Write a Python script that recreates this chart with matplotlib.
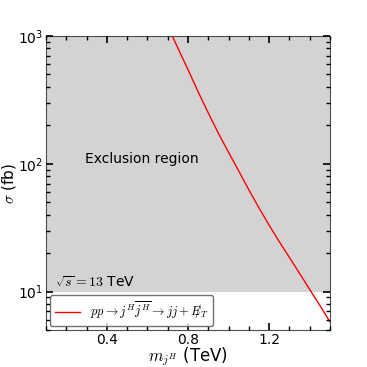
import numpy as np
import matplotlib
matplotlib.use("Agg")
import matplotlib.pyplot as plt
from matplotlib.ticker import MultipleLocator, LogLocator, NullFormatter

plt.rcParams['mathtext.fontset'] = 'cm'

mass = [0.70, 0.75, 0.80, 0.85, 0.90, 0.95, 1.00, 1.05, 1.10,
        1.15, 1.20, 1.25, 1.30, 1.35, 1.40, 1.45, 1.50]   # TeV
xsec = [1194, 806, 546, 366, 250, 173, 123, 88, 62.6,
        45.2, 33.1, 24.6, 18.5, 13.9, 10.4, 7.8, 5.8]      # fb
excl_lo = 10.0
excl_hi = 1000.0

fig = plt.figure(figsize=(3.67, 3.67), dpi=100)
ax = fig.add_axes([0.1253, 0.1008, 0.7737, 0.8012])

ax.axhspan(excl_lo, excl_hi, color='lightgray', lw=0, zorder=0)
ax.plot(mass, xsec, color='red', lw=1.0,
        label=r'$pp \to j^H\overline{j^H} \to jj + {E\!\!\!/}_T$')

ax.set_yscale('log')
ax.set_xlim(0.1, 1.5)
ax.set_ylim(5, 1000)
ax.xaxis.set_major_locator(MultipleLocator(0.4))
ax.xaxis.set_minor_locator(MultipleLocator(0.1))
ax.yaxis.set_minor_locator(LogLocator(base=10, subs=np.arange(2, 10)))
ax.yaxis.set_minor_formatter(NullFormatter())
for axis in (ax.xaxis, ax.yaxis):
    axis.set_tick_params(which='major', direction='in', length=5, width=1.2,
                         color='k', labelsize=10, pad=2)
    axis.set_tick_params(which='minor', direction='in', length=3, width=1.0,
                         color='k')
    axis.set_zorder(5)
ax.tick_params(which='both', top=True, right=True)
for s in ax.spines.values():
    s.set_color('0.3')

ax.text(0.572, 109, 'Exclusion region', fontsize=10, ha='center', va='center')
ax.text(0.145, 10.8, r'$\sqrt{s}=13$ TeV', fontsize=10)

ax.set_xlabel(r'$m_{j^H}$ (TeV)', fontsize=12, labelpad=-1)
ax.set_ylabel(r'$\sigma$ (fb)', fontsize=11, labelpad=0)
ax.legend(loc='lower left', fontsize=9, fancybox=True, edgecolor='0.3',
          borderaxespad=0.3)

fig.savefig('out.png', dpi=100)
